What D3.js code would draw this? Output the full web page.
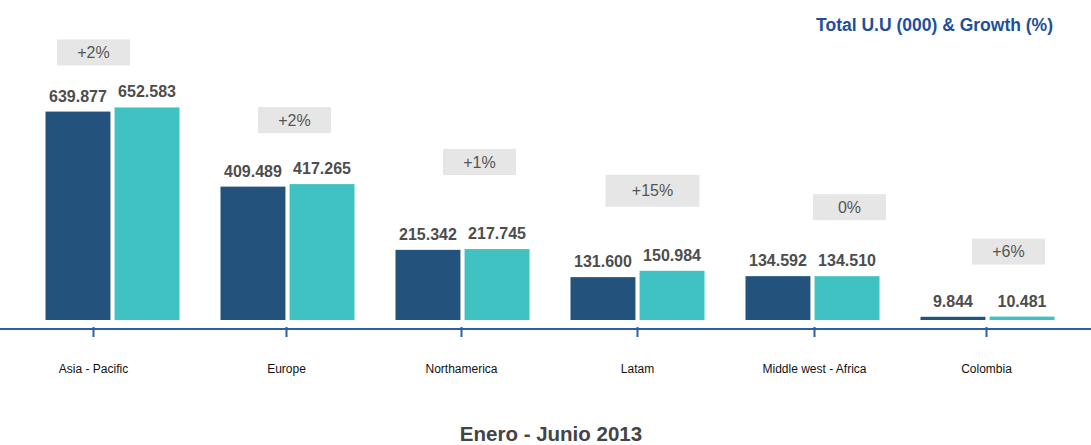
<!DOCTYPE html>
<html>
<head>
<meta charset="utf-8">
<script src="https://cdn.jsdelivr.net/npm/d3@7"></script>
<style>
  html, body { margin: 0; padding: 0; background: #ffffff; }
  svg { display: block; font-family: "Liberation Sans", Arial, Helvetica, sans-serif; }
</style>
</head>
<body>
<svg id="chart" width="1091" height="445"></svg>
<script>
// Unique users (thousands), January-June, previous vs current year
const categories = ["Asia - Pacific", "Europe", "Northamerica", "Latam", "Middle west - Africa", "Colombia"];
const previousYear = [639.877, 409.489, 215.342, 131.600, 134.592, 9.844];
const currentYear  = [652.583, 417.265, 217.745, 150.984, 134.510, 10.481];
const growthLabels = ["+2%", "+2%", "+1%", "+15%", "0%", "+6%"];
const valueLabelsPrev = ["639.877", "409.489", "215.342", "131.600", "134.592", "9.844"];
const valueLabelsCurr = ["652.583", "417.265", "217.745", "150.984", "134.510", "10.481"];

const seriesKeys = ["prev", "curr"];
const colors = { prev: "#23527c", curr: "#40c1c2" };

// Layout
const width = 1091, height = 445;
const baseY = 320;      // bottom of the bars
const axisY = 329;      // blue baseline
const svg = d3.select("#chart");

const x0 = d3.scaleBand().domain(categories).range([25, 1075]).paddingInner(0).paddingOuter(0);
const x1 = d3.scaleBand().domain(seriesKeys).range([0, 134]).paddingInner(0.06);
const y = d3.scaleLinear().domain([0, 700]).range([baseY, baseY - 228]);

const center = c => x0(c) + x0.bandwidth() / 2;

// Small horizontal shifts for the category ticks and labels
const tickShift = [-19, -1, -1, 0, 2, -1];
// Growth badge placement relative to the group
const badgeDx = [-19, 7, 17, 15, 37, 21];
const badgeGap = [42, 51, 74, 64, 56, 52];

const rows = categories.map((c, i) => ({
  cat: c, i,
  prev: previousYear[i], curr: currentYear[i],
  prevLabel: valueLabelsPrev[i], currLabel: valueLabelsCurr[i],
  growth: growthLabels[i]
}));

// Title
svg.append("text")
  .attr("x", 1053).attr("y", 31)
  .attr("text-anchor", "end")
  .attr("font-size", 17.5).attr("font-weight", "bold")
  .attr("fill", "#1f4f98")
  .text("Total U.U (000) & Growth (%)");

// Bars
const groups = svg.append("g").selectAll("g")
  .data(rows).join("g")
  .attr("transform", d => `translate(${center(d.cat) - 67},0)`);

groups.selectAll("rect")
  .data(d => seriesKeys.map(k => ({ key: k, value: d[k] })))
  .join("rect")
  .attr("x", d => x1(d.key))
  .attr("y", d => y(d.value))
  .attr("width", x1.bandwidth())
  .attr("height", d => baseY - y(d.value))
  .attr("fill", d => colors[d.key]);

// Value labels above bars
groups.selectAll("text.val")
  .data(d => seriesKeys.map(k => ({ key: k, value: d[k], label: k === "prev" ? d.prevLabel : d.currLabel })))
  .join("text")
  .attr("class", "val")
  .attr("x", d => x1(d.key) + x1.bandwidth() / 2)
  .attr("y", d => y(d.value) - 10)
  .attr("text-anchor", "middle")
  .attr("font-size", 16).attr("font-weight", "bold")
  .attr("fill", "#4d4d4d")
  .text(d => d.label);

// Growth badges
const badgeW = g => g.length >= 4 ? 94 : 73;
const badgeH = g => g.length >= 4 ? 32 : 26;

const badges = svg.append("g").selectAll("g")
  .data(rows).join("g")
  .attr("transform", d => {
    const top = y(Math.max(d.prev, d.curr));
    return `translate(${center(d.cat) + badgeDx[d.i]},${top - badgeGap[d.i]})`;
  });

badges.append("rect")
  .attr("x", d => -badgeW(d.growth) / 2)
  .attr("y", d => -badgeH(d.growth))
  .attr("width", d => badgeW(d.growth))
  .attr("height", d => badgeH(d.growth))
  .attr("fill", "#e6e6e6");

badges.append("text")
  .attr("x", 0)
  .attr("y", d => -badgeH(d.growth) / 2 + 5.5)
  .attr("text-anchor", "middle")
  .attr("font-size", 16)
  .attr("fill", "#555555")
  .text(d => d.growth);

// Category axis
const axis = svg.append("g")
  .attr("transform", `translate(0,${axisY})`)
  .call(d3.axisBottom(x0).tickSizeOuter(0).tickSizeInner(8).tickPadding(27));

axis.select(".domain").remove();
axis.insert("line", ":first-child")
  .attr("x1", 0).attr("x2", width)
  .attr("y1", 0).attr("y2", 0)
  .attr("stroke", "#2b5fae").attr("stroke-width", 2);

axis.selectAll(".tick")
  .attr("transform", (d, i) => `translate(${center(d) + tickShift[i]},0)`);
axis.selectAll(".tick line")
  .attr("y1", -2).attr("y2", 8)
  .attr("stroke", "#2b5fae").attr("stroke-width", 2);
axis.selectAll(".tick text")
  .attr("font-size", 12)
  .attr("font-family", "'Liberation Sans', Arial, sans-serif")
  .attr("fill", "#111111");

// Period caption
svg.append("text")
  .attr("x", 551).attr("y", 441)
  .attr("text-anchor", "middle")
  .attr("font-size", 20.5).attr("font-weight", "bold")
  .attr("fill", "#444444")
  .text("Enero - Junio 2013");
</script>
</body>
</html>
